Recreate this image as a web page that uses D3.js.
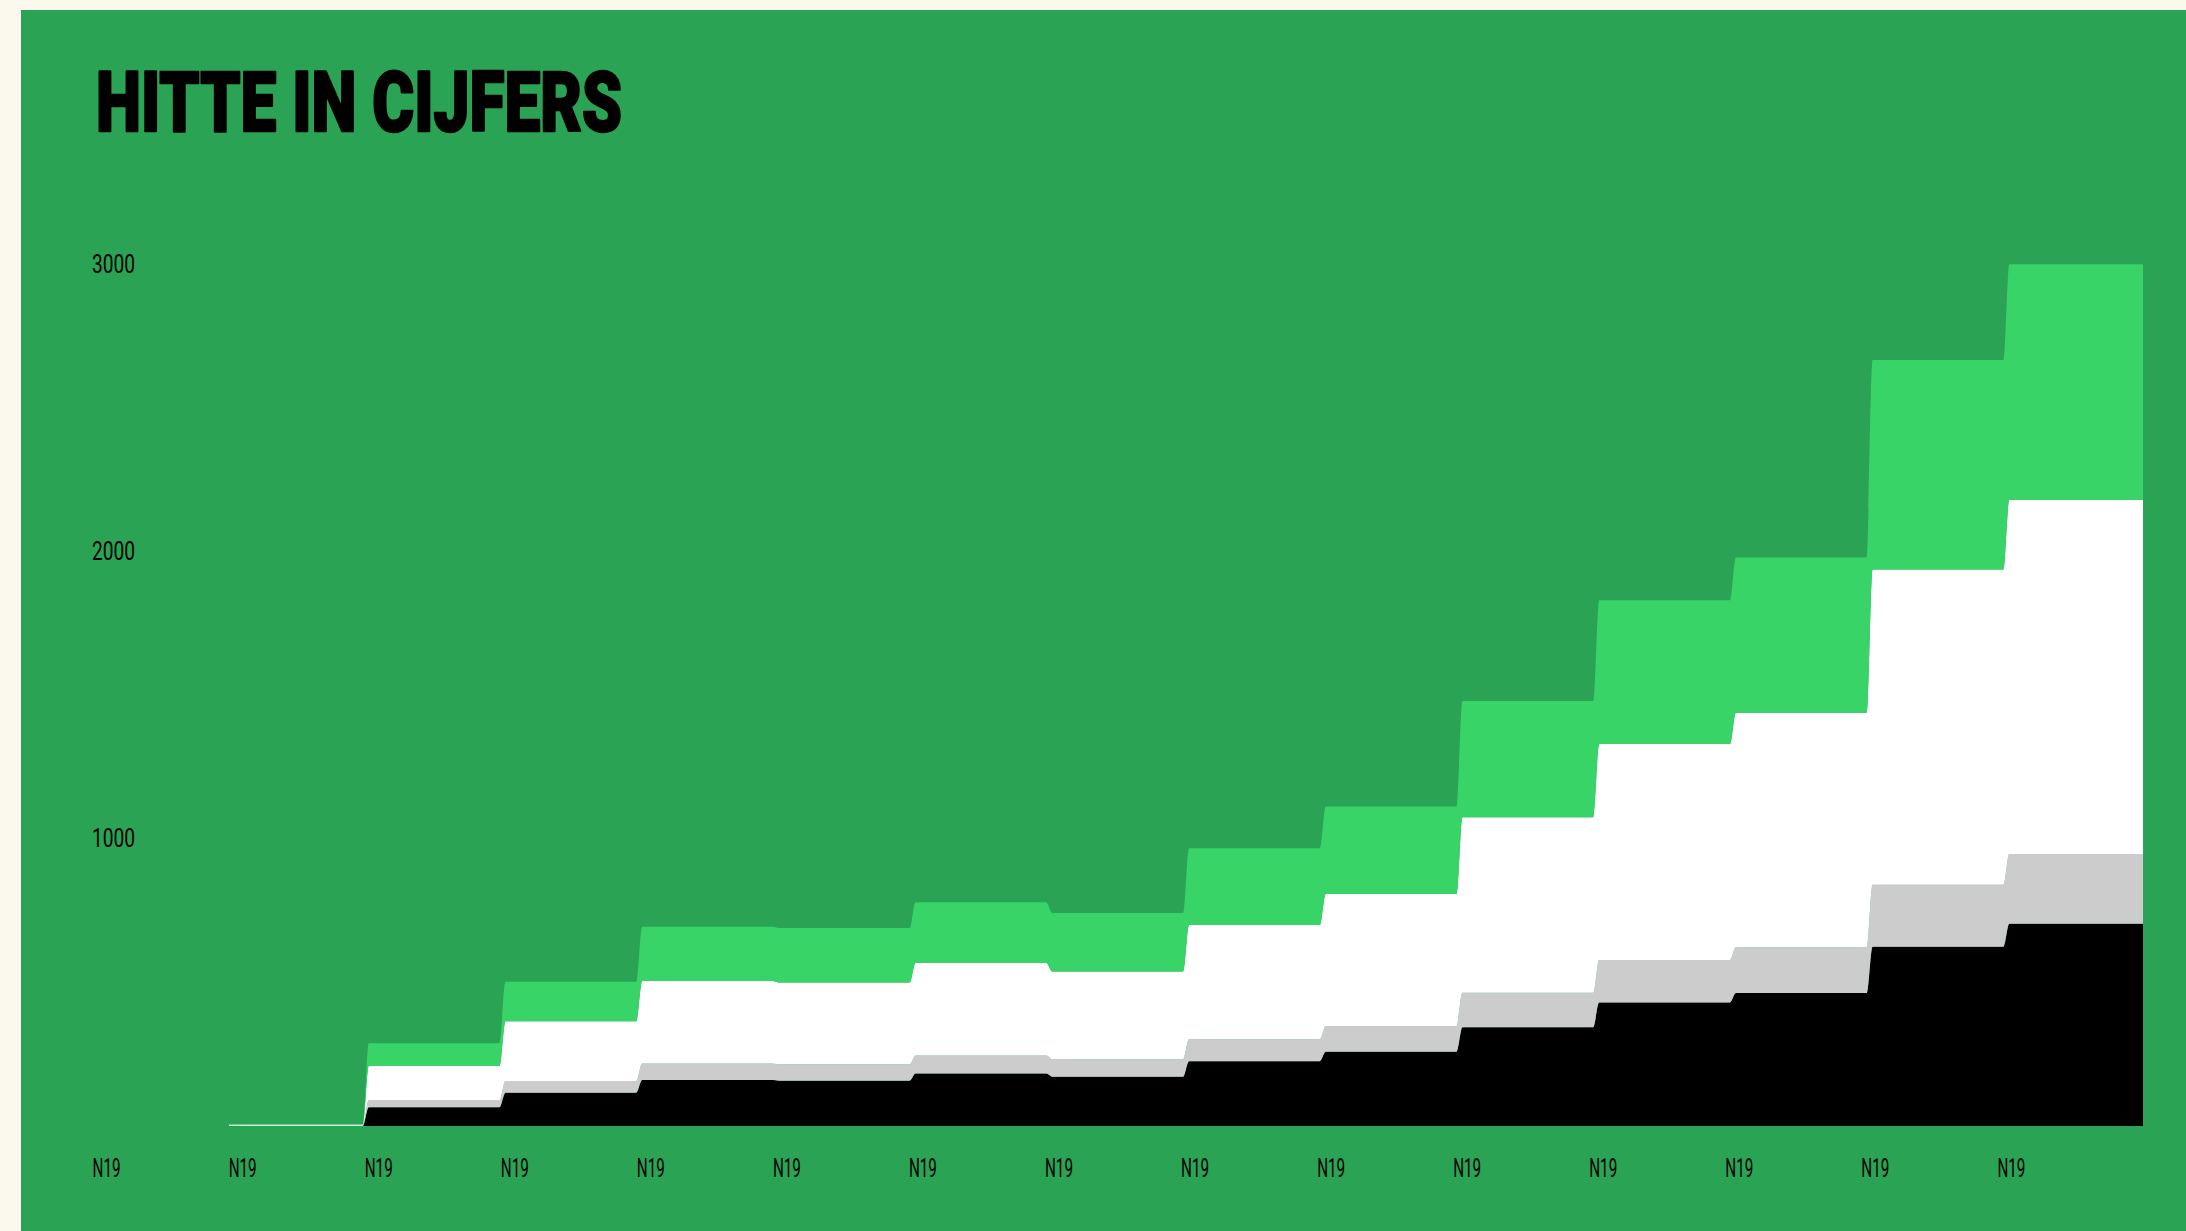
<!DOCTYPE html>
<html>
<head>
<meta charset="utf-8">
<script src="https://cdn.jsdelivr.net/npm/d3@7"></script>
<style>
  html, body { margin: 0; padding: 0; background: #fbf8ee; overflow: hidden; }
  svg { display: block; }
</style>
</head>
<body>
<svg id="chart" width="2186" height="1231"></svg>
<script>
// ---------- DATA ----------
const title = "HITTE IN CIJFERS";
const xTickLabels = ["N19","N19","N19","N19","N19","N19","N19","N19","N19","N19","N19","N19","N19","N19","N19"];
const yTickValues = [1000, 2000, 3000];
const seriesKeys = ["zwart", "grijs", "wit", "lichtgroen"];
// each value holds from tick position (index+1) up to the next tick position
const segmentStarts = [1,2,3,4,5,6,7,8,9,10,11,12,13,14];
const zwart      = [0, 65, 116, 160, 158, 183, 172, 226, 259, 344, 430, 463, 625, 705];
const grijs      = [1, 26,  41,  58,  57,  63,  61,  76,  89, 120, 148, 160, 216, 243];
const wit        = [4, 118, 208, 287, 285, 322, 305, 398, 460, 612, 753, 817, 1098, 1234];
const lichtgroen = [2, 79, 138, 189, 190, 212, 204, 268, 305, 405, 501, 541, 730, 821];

// ---------- STYLE / LAYOUT ----------
const W = 2186, H = 1231;
const colors = { zwart: "#000000", grijs: "#cccccc", wit: "#ffffff", lichtgroen: "#39d468" };
const panelColor = "#2aa355";

const svg = d3.select("#chart");
svg.append("rect").attr("x", 21).attr("y", 10).attr("width", W - 21).attr("height", H - 10).attr("fill", panelColor);

const x = d3.scaleLinear().domain([0, xTickLabels.length]).range([92.3, 2143]);
const xLabelScale = d3.scaleLinear().domain([0, xTickLabels.length]).range([92.6, 2133.5]);
const y = d3.scaleLinear().domain([0, 3000]).range([1126, 265]);

const table = segmentStarts.map((s, i) => ({
  start: s, zwart: zwart[i], grijs: grijs[i], wit: wit[i], lichtgroen: lichtgroen[i]
}));
const stacked = d3.stack().keys(seriesKeys)(table);

const d = 3; // half-width of rounded step transition
const area = d3.area()
  .x(p => p.x)
  .y0(p => y(p.y0))
  .y1(p => y(p.y1))
  .curve(d3.curveMonotoneX);

stacked.forEach(layer => {
  const pts = [];
  layer.forEach((seg, i) => {
    const xs = x(seg.data.start) + (i === 0 ? 0 : d);
    const xe = x(seg.data.start + 1) - (i === layer.length - 1 ? 0 : d);
    pts.push({ x: xs, y0: seg[0], y1: seg[1] });
    pts.push({ x: xe, y0: seg[0], y1: seg[1] });
  });
  svg.append("path")
    .attr("d", area(pts))
    .attr("fill", colors[layer.key]);
});

// ---------- TEXT ----------
function squeeze(sel, targetWidth, refWidth) {
  sel.each(function () {
    const t = d3.select(this);
    const tx = +t.attr("x"), ty = +t.attr("y");
    const w = refWidth || this.getComputedTextLength();
    const s = targetWidth / w;
    t.attr("transform", `translate(${tx},${ty}) scale(${s},1) translate(${-tx},${-ty})`);
  });
}

const titleText = svg.append("text")
  .attr("x", 96).attr("y", 131)
  .attr("font-family", "Roboto, 'Noto Sans', sans-serif")
  .attr("font-weight", 900)
  .attr("font-size", 83)
  .attr("fill", "#000")
  .attr("stroke", "#000")
  .attr("stroke-width", 2.5)
  .attr("stroke-linejoin", "round")
  .text(title);
squeeze(titleText, 526);

// y labels
const yLab = svg.append("g").selectAll("text").data(yTickValues).join("text")
  .attr("x", 92)
  .attr("y", v => y(v) + 8.5)
  .attr("font-family", "Roboto, sans-serif")
  .attr("font-weight", 400)
  .attr("font-size", 25)
  .attr("fill", "#000")
  .text(v => v);
const refY = yLab.filter(v => v === 3000).node().getComputedTextLength();
squeeze(yLab, 43, refY);

// x labels
const xLab = svg.append("g").selectAll("text").data(xTickLabels).join("text")
  .attr("x", (t, i) => xLabelScale(i))
  .attr("y", 1177)
  .attr("font-family", "Roboto, sans-serif")
  .attr("font-weight", 400)
  .attr("font-size", 25)
  .attr("fill", "#000")
  .text(t => t);
squeeze(xLab, 28);
</script>
</body>
</html>
